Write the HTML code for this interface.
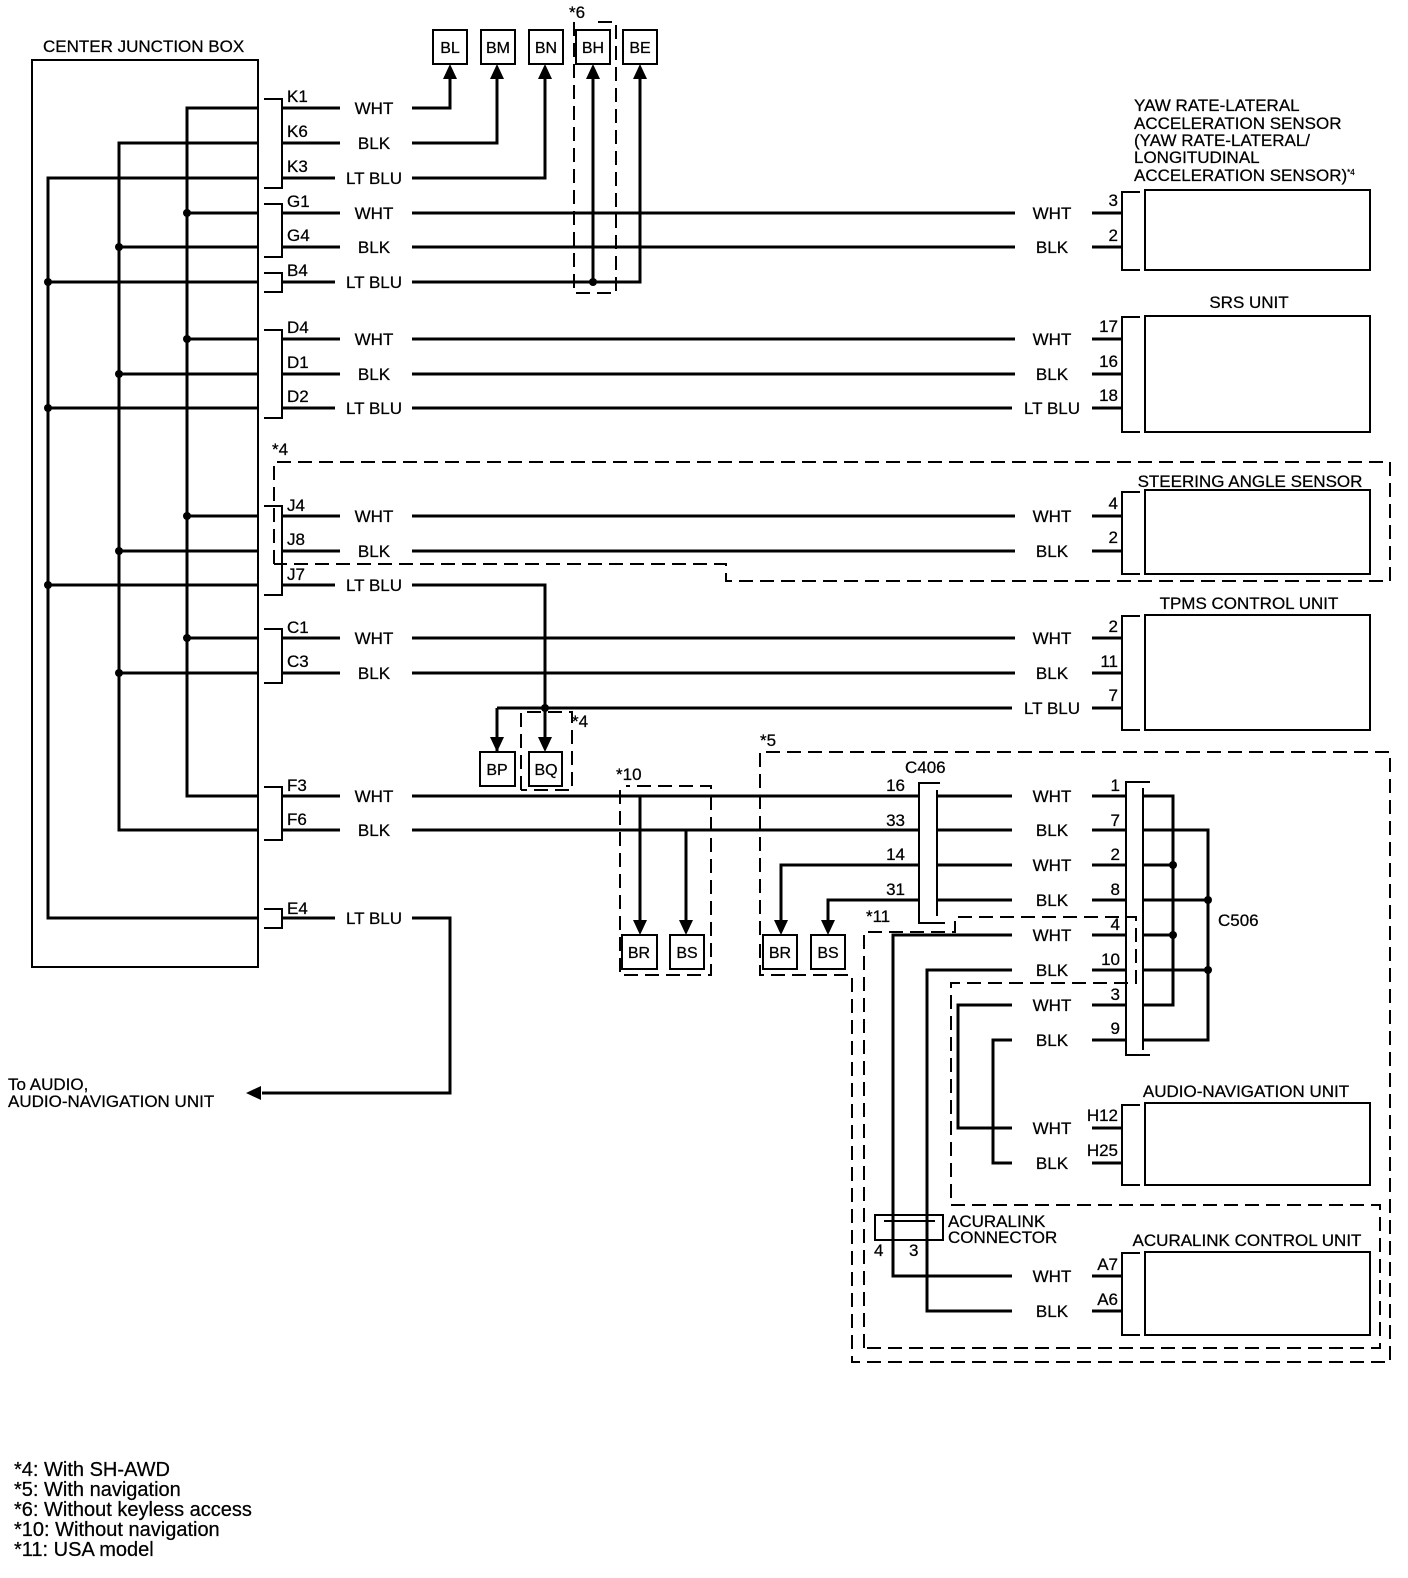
<!DOCTYPE html>
<html><head><meta charset="utf-8"><style>
html,body{margin:0;padding:0;background:#fff}
svg{display:block}
text{font-family:"Liberation Sans",Arial,sans-serif;font-size:17px;fill:#000;stroke:#000;stroke-width:0.25}
.b{font-size:16px}
.w{stroke:#000;stroke-width:3;fill:none}
.t{stroke:#000;stroke-width:2;fill:none}
.d{stroke:#000;stroke-width:2;fill:none;stroke-dasharray:14,7}
.m{text-anchor:middle}
</style></head><body>
<svg width="1408" height="1578" viewBox="0 0 1408 1578" xmlns="http://www.w3.org/2000/svg">
<text x="43" y="52">CENTER JUNCTION BOX</text>
<rect x="32" y="60" width="226" height="907" class="t"/>
<path class="w" d="M258 108H187V796H258M258 143H119V830H258M258 178H48V918H258"/>
<path class="w" d="M187 213H258M187 339H258M187 516H258M187 638H258M119 247H258M119 374H258M119 551H258M119 673H258M48 282H258M48 408H258M48 585H258"/>
<g fill="#000">
<circle cx="187" cy="213" r="4"/><circle cx="187" cy="339" r="4"/><circle cx="187" cy="516" r="4"/><circle cx="187" cy="638" r="4"/>
<circle cx="119" cy="247" r="4"/><circle cx="119" cy="374" r="4"/><circle cx="119" cy="551" r="4"/><circle cx="119" cy="673" r="4"/>
<circle cx="48" cy="282" r="4"/><circle cx="48" cy="408" r="4"/><circle cx="48" cy="585" r="4"/>
<circle cx="593" cy="282" r="4"/><circle cx="545" cy="708" r="4"/>
<circle cx="1173" cy="865" r="4"/><circle cx="1173" cy="935" r="4"/><circle cx="1208" cy="900" r="4"/><circle cx="1208" cy="970" r="4"/>
</g>
<path class="t" d="M264 99H282V188H264M264 204H282V257H264M264 273H282V292H264M264 330H282V418H264M264 506H282V595H264M264 629H282V683H264M264 787H282V840H264M264 909H282V928H264"/>
<path class="w" d="M282 108H340M282 143H340M282 178H335M282 213H340M282 247H340M282 282H335M282 339H340M282 374H340M282 408H335M282 516H340M282 551H340M282 585H335M282 638H340M282 673H340M282 796H340M282 830H340M282 918H335"/>
<g>
<text x="287" y="102">K1</text><text x="287" y="137">K6</text><text x="287" y="172">K3</text>
<text x="287" y="207">G1</text><text x="287" y="241">G4</text><text x="287" y="276">B4</text>
<text x="287" y="333">D4</text><text x="287" y="368">D1</text><text x="287" y="402">D2</text>
<text x="287" y="511">J4</text><text x="287" y="545">J8</text><text x="287" y="580">J7</text>
<text x="287" y="633">C1</text><text x="287" y="667">C3</text>
<text x="287" y="791">F3</text><text x="287" y="825">F6</text><text x="287" y="914">E4</text>
</g>
<g class="m">
<text x="374" y="114">WHT</text><text x="374" y="149">BLK</text><text x="374" y="184">LT BLU</text>
<text x="374" y="219">WHT</text><text x="374" y="253">BLK</text><text x="374" y="288">LT BLU</text>
<text x="374" y="345">WHT</text><text x="374" y="380">BLK</text><text x="374" y="414">LT BLU</text>
<text x="374" y="522">WHT</text><text x="374" y="557">BLK</text><text x="374" y="591">LT BLU</text>
<text x="374" y="644">WHT</text><text x="374" y="679">BLK</text>
<text x="374" y="802">WHT</text><text x="374" y="836">BLK</text><text x="374" y="924">LT BLU</text>
</g>
<rect x="433" y="30" width="34" height="34" class="t"/><text x="450" y="53" class="m b">BL</text>
<rect x="481" y="30" width="34" height="34" class="t"/><text x="498" y="53" class="m b">BM</text>
<rect x="529" y="30" width="34" height="34" class="t"/><text x="546" y="53" class="m b">BN</text>
<rect x="576" y="30" width="34" height="34" class="t"/><text x="593" y="53" class="m b">BH</text>
<rect x="623" y="30" width="34" height="34" class="t"/><text x="640" y="53" class="m b">BE</text>
<path class="d" d="M574 22V293H616V22H598"/>
<text x="569" y="18">*6</text>
<path class="w" d="M412 108H450V76M412 143H497V76M412 178H545V76M412 282H640V76M593 282V76"/>
<g fill="#000">
<path d="M450 64l-7 15h14z"/><path d="M497 64l-7 15h14z"/><path d="M545 64l-7 15h14z"/><path d="M593 64l-7 15h14z"/><path d="M640 64l-7 15h14z"/>
</g>
<path class="w" d="M412 213H1015M412 247H1015M412 339H1015M412 374H1015M412 408H1012M412 516H1015M412 551H1015M412 638H1015M412 673H1015M497 708H1012M412 585H545V708M497 708V752M545 708V745"/>
<path class="w" d="M1092 213H1122M1092 247H1122M1092 339H1122M1092 374H1122M1092 408H1122M1092 516H1122M1092 551H1122M1092 638H1122M1092 673H1122M1092 708H1122"/>
<g class="m">
<text x="1052" y="219">WHT</text><text x="1052" y="253">BLK</text>
<text x="1052" y="345">WHT</text><text x="1052" y="380">BLK</text><text x="1052" y="414">LT BLU</text>
<text x="1052" y="522">WHT</text><text x="1052" y="557">BLK</text>
<text x="1052" y="644">WHT</text><text x="1052" y="679">BLK</text><text x="1052" y="714">LT BLU</text>
</g>
<g text-anchor="end">
<text x="1118" y="206">3</text><text x="1118" y="241">2</text>
<text x="1118" y="332">17</text><text x="1118" y="367">16</text><text x="1118" y="401">18</text>
<text x="1118" y="509">4</text><text x="1118" y="543">2</text>
<text x="1118" y="632">2</text><text x="1118" y="667">11</text><text x="1118" y="701">7</text>
</g>
<path class="t" d="M1140 192H1122V270H1140M1140 317H1122V432H1140M1140 492H1122V574H1140M1140 616H1122V730H1140M1140 1105H1122V1185H1140M1140 1253H1122V1335H1140"/>
<rect x="1145" y="190" width="225" height="80" class="t"/>
<rect x="1145" y="316" width="225" height="116" class="t"/>
<rect x="1145" y="490" width="225" height="84" class="t"/>
<rect x="1145" y="615" width="225" height="115" class="t"/>
<rect x="1145" y="1103" width="225" height="82" class="t"/>
<rect x="1145" y="1252" width="225" height="83" class="t"/>
<text x="1134" y="111">YAW RATE-LATERAL</text>
<text x="1134" y="129">ACCELERATION SENSOR</text>
<text x="1134" y="146">(YAW RATE-LATERAL/</text>
<text x="1134" y="163">LONGITUDINAL</text>
<text x="1134" y="181">ACCELERATION SENSOR)<tspan font-size="8" dy="-6">*4</tspan></text>
<text x="1249" y="308" class="m">SRS UNIT</text>
<text x="1250" y="487" class="m">STEERING ANGLE SENSOR</text>
<text x="1249" y="609" class="m">TPMS CONTROL UNIT</text>
<text x="1246" y="1097" class="m">AUDIO-NAVIGATION UNIT</text>
<text x="1247" y="1246" class="m">ACURALINK CONTROL UNIT</text>
<path class="d" d="M274 564V462H1390V581H726V564H274"/>
<text x="272" y="455">*4</text>
<rect x="480" y="752" width="35" height="34" class="t"/><text x="497" y="775" class="m b">BP</text>
<rect x="529" y="752" width="33" height="34" class="t"/><text x="546" y="775" class="m b">BQ</text>
<path class="d" d="M521 790V712H572V790H521"/>
<text x="572" y="727">*4</text>
<g fill="#000"><path d="M497 752l-7-15h14z"/><path d="M545 752l-7-15h14z"/></g>
<path class="w" d="M412 796H919M412 830H919M640 796V922M686 830V922"/>
<g fill="#000"><path d="M640 935l-7-15h14z"/><path d="M686 935l-7-15h14z"/></g>
<rect x="622" y="935" width="35" height="34" class="t"/><text x="639" y="958" class="m b">BR</text>
<rect x="670" y="935" width="34" height="34" class="t"/><text x="687" y="958" class="m b">BS</text>
<path class="d" d="M620 790V975H711V786H626"/>
<text x="616" y="780">*10</text>
<path class="w" d="M412 918H450V1093H262"/>
<path fill="#000" d="M246 1093l15-7v14z"/>
<text x="8" y="1090">To AUDIO,</text>
<text x="8" y="1107">AUDIO-NAVIGATION UNIT</text>
<path class="d" d="M760 935V752H1390V1362H852V975H760V940"/>
<text x="760" y="746">*5</text>
<path class="t" d="M940 783H919V923H945M937 790V916"/>
<text x="905" y="773">C406</text>
<path class="w" d="M919 865H781V922M919 900H828V922"/>
<g fill="#000"><path d="M781 935l-7-15h14z"/><path d="M828 935l-7-15h14z"/></g>
<rect x="763" y="935" width="34" height="34" class="t"/><text x="780" y="958" class="m b">BR</text>
<rect x="811" y="935" width="34" height="34" class="t"/><text x="828" y="958" class="m b">BS</text>
<g text-anchor="end">
<text x="905" y="791">16</text><text x="905" y="826">33</text><text x="905" y="860">14</text><text x="905" y="895">31</text>
</g>
<path class="w" d="M937 796H1012M937 830H1012M937 865H1012M937 900H1012"/>
<path class="t" d="M1150 782H1126V1055H1150M1143 788V1050"/>
<path class="w" d="M1092 796H1126M1092 830H1126M1092 865H1126M1092 900H1126M1092 935H1126M1092 970H1126M1092 1005H1126M1092 1040H1126"/>
<path class="w" d="M1143 796H1173V1005H1143M1143 865H1173M1143 935H1173M1143 830H1208V1040H1143M1143 900H1208M1143 970H1208"/>
<text x="1218" y="926">C506</text>
<g text-anchor="end">
<text x="1120" y="791">1</text><text x="1120" y="826">7</text><text x="1120" y="860">2</text><text x="1120" y="895">8</text>
<text x="1120" y="930">4</text><text x="1120" y="965">10</text><text x="1120" y="1000">3</text><text x="1120" y="1034">9</text>
<text x="1118" y="1121">H12</text><text x="1118" y="1156">H25</text>
<text x="1118" y="1270">A7</text><text x="1118" y="1305">A6</text>
</g>
<g class="m">
<text x="1052" y="802">WHT</text><text x="1052" y="836">BLK</text><text x="1052" y="871">WHT</text><text x="1052" y="906">BLK</text>
<text x="1052" y="941">WHT</text><text x="1052" y="976">BLK</text><text x="1052" y="1011">WHT</text><text x="1052" y="1046">BLK</text>
<text x="1052" y="1134">WHT</text><text x="1052" y="1169">BLK</text>
<text x="1052" y="1282">WHT</text><text x="1052" y="1317">BLK</text>
</g>
<path class="w" d="M1012 935H893V1276H1012M1012 970H927V1311H1012M1012 1005H958V1128H1012M1012 1040H993V1163H1012"/>
<path class="w" d="M1092 1128H1122M1092 1163H1122M1092 1276H1122M1092 1311H1122"/>
<path class="d" d="M864 1348V932H955V917H1136V983H951V1205H1380V1348H864"/>
<text x="866" y="922">*11</text>
<rect x="875" y="1215" width="68" height="25" fill="#fff" stroke="#000" stroke-width="2"/>
<path class="t" d="M884 1221H935"/>
<path class="w" d="M893 1215V1240M927 1215V1240"/>
<text x="948" y="1227">ACURALINK</text>
<text x="948" y="1243">CONNECTOR</text>
<text x="874" y="1256">4</text><text x="909" y="1256">3</text>
<text x="14" y="1476" style="font-size:20px">*4: With SH-AWD</text>
<text x="14" y="1496" style="font-size:20px">*5: With navigation</text>
<text x="14" y="1516" style="font-size:20px">*6: Without keyless access</text>
<text x="14" y="1536" style="font-size:20px">*10: Without navigation</text>
<text x="14" y="1556" style="font-size:20px">*11: USA model</text>
</svg>
</body></html>
